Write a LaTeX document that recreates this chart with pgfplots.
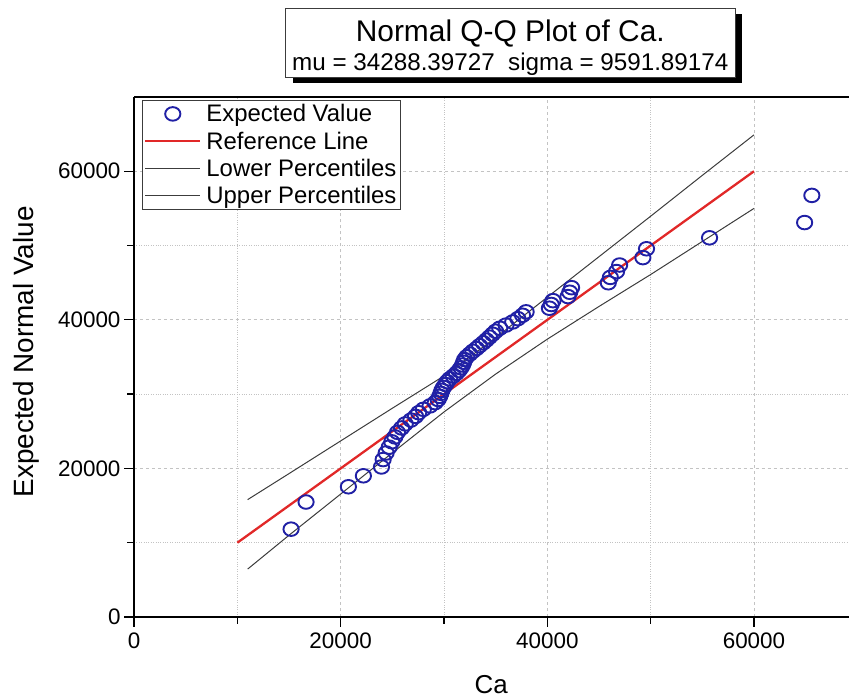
\documentclass[border=0pt]{standalone}
\usepackage{fontspec}
\setmainfont{Liberation Sans}
\usepackage{pgfplots}
\pgfplotsset{compat=1.18}
\pgfplotsset{legend image code/.code={\draw[mark repeat=2,mark phase=2,#1] plot coordinates {(0bp,0bp) (27.5bp,0bp) (55bp,0bp)};}}
\definecolor{qblue}{RGB}{32,32,165}
\definecolor{qred}{RGB}{225,40,40}
\definecolor{qgrid}{RGB}{195,195,195}
\definecolor{qline}{RGB}{60,60,60}
\begin{document}
\begin{tikzpicture}[x=1bp,y=1bp]
\path[use as bounding box] (0,0) rectangle (849,698);
\begin{axis}[
  at={(134bp,81bp)}, anchor=south west,
  scale only axis, width=714.5bp, height=520bp,
  xmin=0, xmax=69150, ymin=0, ymax=70000,
  axis x line*=bottom, axis y line*=left,
  axis line style={-, line width=1.7bp, black},
  xtick={0,20000,40000,60000}, minor xtick={10000,30000,50000},
  ytick={0,20000,40000,60000}, minor ytick={10000,30000,50000},
  grid=both,
  major grid style={qgrid, dashed, line width=0.8bp},
  minor grid style={qgrid, dotted, line width=0.8bp},
  tick align=outside, major tick length=10bp, minor tick length=7bp,
  every tick/.style={black, line width=1.3bp},
  scaled ticks=false,
  /pgf/number format/assume math mode=true,
  /pgf/number format/.cd, fixed, 1000 sep={}, /pgfplots/.cd,
  tick label style={font=\fontsize{22.5}{22.5}\selectfont},
  xticklabel style={yshift=-2bp},
  xlabel={Ca}, ylabel={Expected Normal Value},
  xlabel style={font=\fontsize{26}{26}\selectfont, at={(axis description cs:0.5,0)}, anchor=base, yshift=-77bp},
  ylabel style={font=\fontsize{28}{28}\selectfont, at={(axis description cs:0,0.51)}, anchor=center, yshift=108bp},
  legend style={at={(axis description cs:0.0108,0.994)}, anchor=north west,
    draw=qline, line width=0.8bp, fill=white,
    font=\fontsize{24}{26}\selectfont, row sep=4.5bp, column sep=3bp, inner sep=2bp,
    cells={anchor=west}},
  legend cell align=left,
  clip=false,
]
\addplot[only marks, mark=o, qblue, mark size=6.8bp,
  mark options={line width=1.9bp, xscale=1.12}]
coordinates {
(15200,11824) (16650,15478) (20750,17531) (22200,19008) (23950,20197)
(24110,21195) (24400,22077) (24700,22864) (24950,23583) (25250,24245)
(25500,24859) (25900,25444) (26250,25991) (26800,26509) (27250,27008)
(27550,27497) (28000,27957) (28650,28418) (29150,28859) (29430,29281)
(29590,29703) (29700,30106) (29800,30509) (29950,30902) (30150,31295)
(30300,31669) (30550,32053) (30900,32427) (31200,32801) (31450,33175)
(31650,33549) (31800,33924) (31900,34288) (32000,34652) (32200,35027)
(32500,35401) (32800,35775) (33150,36149) (33450,36523) (33800,36907)
(34100,37281) (34400,37674) (34700,38067) (35000,38470) (35400,38873)
(36000,39295) (36650,39717) (37150,40158) (37600,40619) (37950,41079)
(40200,41568) (40380,42067) (40550,42585) (42000,43132) (42170,43717)
(42350,44331) (45900,44993) (46100,45712) (46700,46499) (47000,47381)
(49250,48379) (49600,49568) (55700,51045) (64900,53098) (65600,56752)
};
\addlegendentry{Expected Value}
\addplot[qred, line width=2.3bp] coordinates {(10000,10000) (60000,60000)};
\addlegendentry{Reference Line}
\addplot[qline, line width=1bp] coordinates {
(11000,6450) (15000,11000) (20000,16550) (25000,22100) (30000,27600)
(35000,32700) (40000,37400) (45000,41800) (50000,46100) (55000,50550) (60000,55000)};
\addlegendentry{Lower Percentiles}
\addplot[qline, line width=1bp] coordinates {
(11000,15800) (15000,19300) (20000,23700) (25000,28100) (30000,32450)
(35000,37600) (40000,43050) (45000,48500) (50000,53950) (55000,59450) (60000,64900)};
\addlegendentry{Upper Percentiles}
\draw[line width=1.7bp, black] (rel axis cs:0,1) -- (rel axis cs:1,1);
\end{axis}
\fill[black] (292.7,614.7) rectangle (742,683.7);
\draw[fill=white, draw=qline, line width=0.9bp] (285.7,620.7) rectangle (735,689.7);
\node[anchor=base, font=\fontsize{30}{30}\selectfont, inner sep=0] at (510.3,656.3) {Normal Q-Q Plot of Ca.};
\node[anchor=base, font=\fontsize{24.3}{24.3}\selectfont, inner sep=0] at (510.3,627) {mu = 34288.39727\ \ sigma = 9591.89174};
\end{tikzpicture}
\end{document}
